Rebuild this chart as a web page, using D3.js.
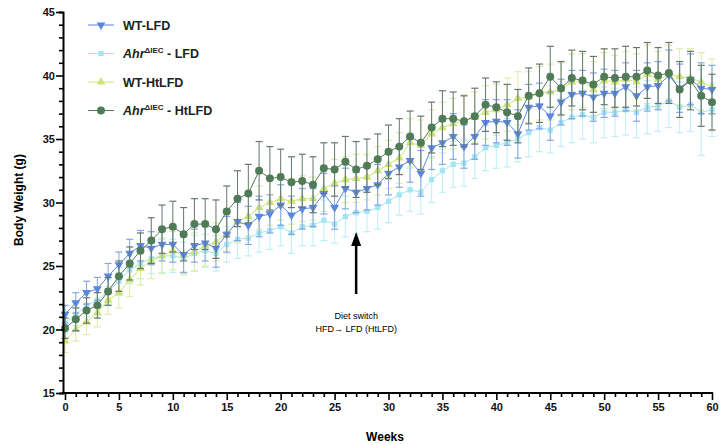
<!DOCTYPE html>
<html>
<head>
<meta charset="utf-8">
<script src="https://cdn.jsdelivr.net/npm/d3@7"></script>
<style>
  html, body { margin: 0; padding: 0; background: #fff; }
  svg { display: block; font-family: "Liberation Sans", Arial, sans-serif; }
</style>
</head>
<body>
<svg id="chart" width="721" height="445"></svg>
<script>
// Weekly body weight (g), mean and SEM per group
const weeks = d3.range(0, 61);

const wtLfd = [21.2,22.1,22.9,23.2,24.2,25.1,26.0,26.6,26.4,26.7,26.7,25.9,26.6,26.8,26.4,27.5,28.5,28.2,28.9,29.1,
  29.8,29.0,29.5,29.6,30.7,29.6,31.1,30.8,31.1,31.4,32.3,32.8,33.3,32.3,34.3,34.7,35.2,34.4,35.2,36.3,
  36.4,36.3,35.4,37.5,37.6,36.8,37.9,38.5,38.6,38.3,38.6,38.6,39.1,38.4,39.1,39.2,40.0,39.0,39.7,39.0,38.9];
const wtLfdErr = [0.7,0.8,0.9,0.9,1.0,1.0,1.1,1.2,1.3,1.3,1.4,1.4,1.3,1.4,1.5,1.4,1.5,1.5,1.6,1.5,
  1.6,1.5,1.6,1.5,1.6,1.7,1.6,1.6,1.7,1.6,1.7,1.6,1.7,1.8,1.7,1.7,1.8,1.7,1.8,1.8,
  1.7,1.8,1.9,1.8,1.8,1.9,1.8,1.9,1.8,1.9,1.9,1.8,1.9,2.0,1.9,1.9,2.0,1.9,2.0,2.0,1.9];

const ahrLfd = [20.5,21.2,21.9,22.3,23.0,23.8,24.7,25.2,25.6,25.8,25.8,25.6,26.0,26.2,26.0,26.7,27.1,27.2,27.6,27.8,
  28.1,27.6,28.1,28.2,28.6,28.3,28.9,29.2,29.3,29.6,30.1,30.6,31.0,30.8,31.8,32.5,33.0,33.1,33.6,34.3,
  34.5,34.7,35.0,35.5,35.9,35.7,36.3,36.7,36.9,36.7,37.1,37.1,37.3,37.1,37.5,37.6,38.0,37.5,37.7,37.1,37.3];
const ahrLfdErr = [0.8,0.9,0.9,1.0,1.0,1.1,1.1,1.2,1.2,1.3,1.3,1.3,1.4,1.3,1.4,1.4,1.5,1.4,1.5,1.5,
  1.5,1.6,1.5,1.6,1.6,1.5,1.6,1.7,1.6,1.7,1.7,1.6,1.7,1.7,1.8,1.7,1.8,1.8,1.7,1.8,
  1.8,1.9,1.8,1.9,1.9,1.8,1.9,2.0,1.9,2.0,2.0,1.9,2.0,2.0,2.1,2.0,2.1,2.0,2.1,3.4,2.1];

const wtHtLfd = [19.1,20.0,20.6,21.3,22.3,22.9,23.9,24.8,25.4,25.8,26.2,25.9,26.1,26.6,26.9,27.6,28.5,28.9,29.6,30.0,
  30.3,30.1,30.3,30.3,31.1,31.5,31.8,31.9,32.0,32.5,33.0,33.5,34.7,34.5,35.4,35.9,36.2,36.4,36.7,37.1,
  37.3,37.7,38.2,38.3,38.6,38.7,38.9,39.5,39.6,38.9,39.6,39.5,39.7,39.5,40.1,39.7,40.1,39.9,39.8,39.5,39.1];
const wtHtLfdErr = [0.9,0.9,1.0,1.1,1.1,1.2,1.3,1.3,1.4,1.4,1.5,1.5,1.5,1.6,1.5,1.6,1.7,1.6,1.7,1.8,
  1.7,1.8,1.8,1.7,1.8,1.9,1.8,1.9,1.8,1.9,1.9,2.0,1.9,2.0,1.9,2.0,2.0,2.1,2.0,2.1,
  2.0,2.1,2.1,2.0,2.1,2.2,2.1,2.2,2.1,2.2,2.2,2.1,2.2,2.2,2.3,2.2,2.3,2.2,2.3,2.3,2.2];

const ahrHtLfd = [20.1,20.8,21.5,21.9,23.0,24.2,25.2,26.2,27.0,27.9,28.1,27.5,28.3,28.3,27.9,29.3,30.3,30.7,32.5,31.9,
  32.0,31.6,31.7,31.4,32.7,32.6,33.2,32.6,32.9,33.4,34.0,34.4,35.2,34.7,35.9,36.6,36.6,36.4,36.8,37.7,
  37.5,37.1,36.8,38.4,38.6,39.9,39.0,39.8,39.6,39.3,39.9,39.8,39.9,39.9,40.4,40.0,40.2,38.9,39.6,38.4,37.9];
const ahrHtLfdErr = [0.8,0.9,1.0,1.0,1.1,1.2,1.3,1.4,1.8,1.9,2.0,2.1,2.0,2.0,2.3,2.0,2.2,2.3,2.3,2.5,
  2.2,2.0,2.1,2.2,2.0,2.1,2.0,2.2,2.1,2.0,2.1,2.2,2.0,2.1,2.0,2.2,2.1,2.0,2.2,2.1,
  2.0,2.2,2.1,2.2,2.3,2.4,2.1,2.2,2.3,2.2,2.2,2.3,2.4,2.3,2.2,2.2,2.4,2.2,2.3,2.4,2.2];

const yTicks = [15, 20, 25, 30, 35, 40, 45];
const xTicks = [0, 5, 10, 15, 20, 25, 30, 35, 40, 45, 50, 55, 60];
const switchWeek = 27;

// Group styling; legend order follows this list, drawing order is bottom-up below
const groups = [
  { key: "wtLfd",    name: ["WT-LFD"],          vals: wtLfd,    err: wtLfdErr,    color: "#5b88dc", bar: "#86a5e2", shape: "triDown" },
  { key: "ahrLfd",   name: ["Ahr", "ΔIEC", " - LFD"],   vals: ahrLfd,   err: ahrLfdErr,   color: "#a2e6f2", bar: "#bdeff7", shape: "square" },
  { key: "wtHtLfd",  name: ["WT-HtLFD"],        vals: wtHtLfd,  err: wtHtLfdErr,  color: "#cbe476", bar: "#dcedaa", shape: "triUp" },
  { key: "ahrHtLfd", name: ["Ahr", "ΔIEC", " - HtLFD"], vals: ahrHtLfd, err: ahrHtLfdErr, color: "#4f7c57", bar: "#66766a", shape: "circle" }
];
const drawOrder = ["ahrLfd", "wtHtLfd", "wtLfd", "ahrHtLfd"];

const svg = d3.select("#chart");
const x = d3.scaleLinear().domain([0, 60]).range([65, 712]);
const y = d3.scaleLinear().domain([15, 45]).range([393, 12]);

const symbolFor = {
  triDown: d3.symbol().type(d3.symbolTriangle).size(34),
  triUp: d3.symbol().type(d3.symbolTriangle).size(34),
  square: d3.symbol().type(d3.symbolSquare).size(28),
  circle: d3.symbol().type(d3.symbolCircle).size(50)
};
function marker(sel, g, px, py) {
  const rot = g.shape === "triDown" ? " rotate(180)" : "";
  sel.append("path")
    .attr("d", symbolFor[g.shape]())
    .attr("transform", `translate(${px},${py})${rot}`)
    .attr("fill", g.color);
}

// Series: error bars, connecting line, markers
const plot = svg.append("g");
drawOrder.forEach(k => {
  const g = groups.find(d => d.key === k);
  const layer = plot.append("g");
  const cap = 3.5;
  weeks.forEach((w, i) => {
    const cx = x(w), hi = y(g.vals[i] + g.err[i]), lo = y(g.vals[i] - g.err[i]);
    layer.append("line").attr("x1", cx).attr("x2", cx).attr("y1", hi).attr("y2", lo)
      .attr("stroke", g.bar).attr("stroke-width", 1);
    [hi, lo].forEach(yy => layer.append("line").attr("x1", cx - cap).attr("x2", cx + cap)
      .attr("y1", yy).attr("y2", yy).attr("stroke", g.bar).attr("stroke-width", 1.2));
  });
  layer.append("path")
    .datum(weeks)
    .attr("fill", "none")
    .attr("stroke", g.color)
    .attr("stroke-width", 1)
    .attr("d", d3.line().x(w => x(w)).y((w, i) => y(g.vals[i])));
  weeks.forEach((w, i) => marker(layer, g, x(w), y(g.vals[i])));
});

// Axes
const tickFont = "bold 11px 'Liberation Sans', Arial, sans-serif";
const yAxis = svg.append("g").attr("transform", "translate(63,0)")
  .call(d3.axisLeft(y).tickValues(d3.range(15, 46, 1)).tickSizeOuter(0)
    .tickSize(4).tickFormat(d => yTicks.includes(d) ? d : ""));
yAxis.selectAll(".tick line").attr("x2", d => yTicks.includes(d) ? -7 : -4).attr("stroke-width", 1.6);
yAxis.select(".domain").attr("stroke-width", 2);
yAxis.selectAll("text").attr("x", -8).style("font", tickFont).attr("fill", "#111");

const xAxis = svg.append("g").attr("transform", "translate(0,393)")
  .call(d3.axisBottom(x).tickValues(d3.range(0, 61, 1)).tickSizeOuter(0)
    .tickSize(4).tickFormat(d => xTicks.includes(d) ? d : ""));
xAxis.selectAll(".tick line").attr("y2", d => xTicks.includes(d) ? 7 : 4).attr("stroke-width", 1.6);
xAxis.select(".domain").attr("d", "M62,0H713").attr("stroke-width", 2);
xAxis.selectAll("text").attr("y", 10).style("font", tickFont).attr("fill", "#111");

// Axis titles
svg.append("text").attr("x", 385).attr("y", 441).attr("text-anchor", "middle")
  .style("font", "bold 12px 'Liberation Sans', Arial, sans-serif").text("Weeks");
svg.append("text").attr("transform", "translate(23,200) rotate(-90)").attr("text-anchor", "middle")
  .style("font", "bold 12px 'Liberation Sans', Arial, sans-serif").text("Body Weight (g)");

// Legend
const legend = svg.append("g");
groups.forEach((g, i) => {
  const cy = 25 + i * 28.5;
  legend.append("line").attr("x1", 88).attr("x2", 114).attr("y1", cy).attr("y2", cy)
    .attr("stroke", g.color).attr("stroke-width", 1);
  marker(legend, g, 101, cy);
  const t = legend.append("text").attr("x", 123).attr("y", cy + 4.5)
    .style("font", "bold 12.5px 'Liberation Sans', Arial, sans-serif").attr("fill", "#222");
  if (g.name.length === 1) {
    t.text(g.name[0]);
  } else {
    t.append("tspan").style("font-style", "italic").text(g.name[0]);
    t.append("tspan").attr("dy", -5).style("font-size", "8px").text(g.name[1]);
    t.append("tspan").attr("dy", 5).text(g.name[2]);
  }
});

// Diet switch annotation: arrow pointing up at the switch week
const ax = x(switchWeek);
svg.append("line").attr("x1", ax).attr("x2", ax).attr("y1", 294).attr("y2", 244)
  .attr("stroke", "#000").attr("stroke-width", 2.5);
svg.append("path")
  .attr("d", `M${ax - 5},${246} L${ax},${232} L${ax + 5},${246} Z`)
  .attr("fill", "#000");
svg.append("text").attr("x", ax).attr("y", 319).attr("text-anchor", "middle")
  .style("font", "9px 'Liberation Sans', Arial, sans-serif").text("Diet switch");
svg.append("text").attr("x", ax).attr("y", 332).attr("text-anchor", "middle")
  .style("font", "9px 'Liberation Sans', Arial, sans-serif").text("HFD→ LFD (HtLFD)");
</script>
</body>
</html>
